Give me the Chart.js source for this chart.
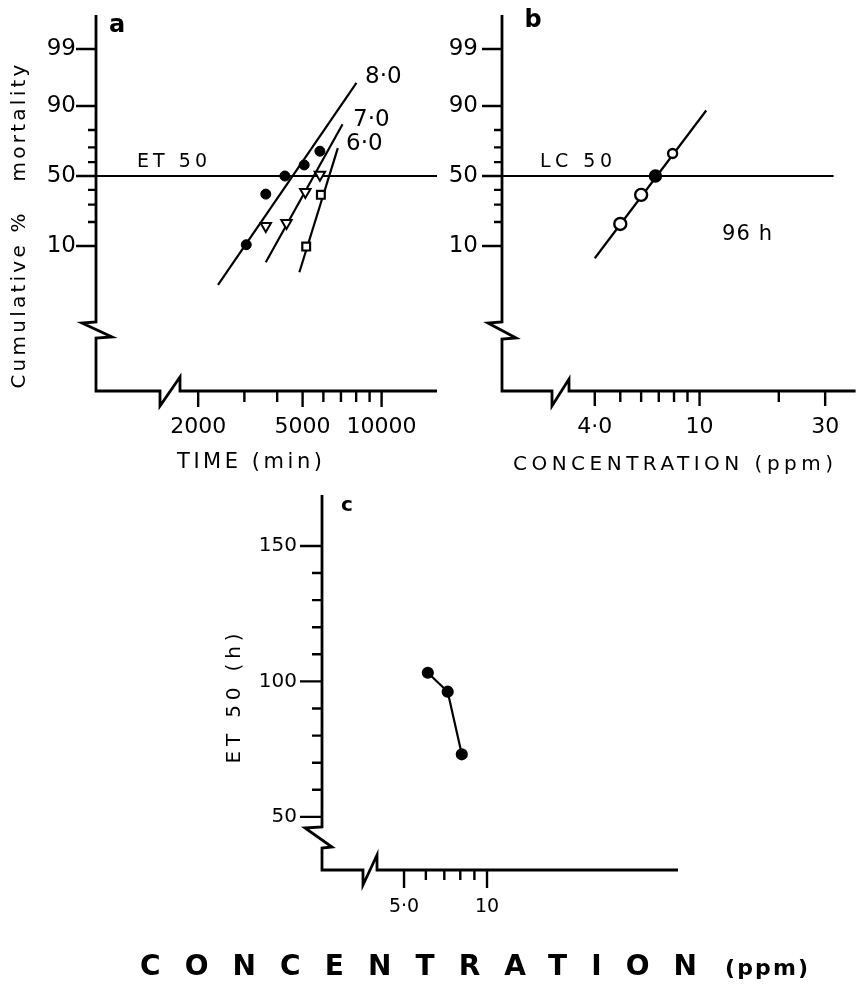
<!DOCTYPE html>
<html>
<head>
<meta charset="utf-8">
<script src="https://cdn.jsdelivr.net/npm/chart.js@4"></script>
<style>
  html, body { margin: 0; padding: 0; background: #fff; }
  body { width: 864px; height: 989px; position: relative; overflow: hidden; }
  canvas { position: absolute; }
  #chartA { left: 0; top: 0; }
  #chartB { left: 440px; top: 0; }
  #chartC { left: 0; top: 470px; }
</style>
</head>
<body>
<canvas id="chartA" width="445" height="480"></canvas>
<canvas id="chartB" width="424" height="480"></canvas>
<canvas id="chartC" width="864" height="519"></canvas>
<script>
// ---- panel a: cumulative % mortality against time, three concentrations (ppm)
const time8 = [3050, 3620, 4280, 5070, 5820];
const mort8 = [10.4, 37, 50, 58, 67.5];
const time7 = [3620, 4340, 5120, 5820];
const mort7 = [18, 19.5, 38.5, 51];
const time6 = [5160, 5870];
const mort6 = [9.8, 36.5];
// fitted probit lines
const fitTime8 = [2380, 8020];
const fitMort8 = [2.3, 95.6];
const fitTime7 = [3620, 7100];
const fitMort7 = [5.7, 82.8];
const fitTime6 = [4860, 6810];
const fitMort6 = [3.9, 69.5];
const et50Time = [816, 16260];
const et50Mort = [50, 50];

// ---- panel b: mortality against concentration after 96 h
const conc96 = [5.0, 6.0, 6.8, 7.9];
const mort96 = [19, 36.5, 50, 66];
const fitConcB = [4.0, 10.6];
const fitMortB = [6.6, 88.5];
const lc50Conc = [1.78, 32.3];
const lc50Mort = [50, 50];

// ---- panel c: ET 50 against concentration
const concC = [6.1, 7.2, 8.1];
const et50Hours = [103.2, 96.2, 73.1];

// ---- tick values / labels
const mortTicks = [10, 50, 90, 99];
const mortTickLabels = ['10', '50', '90', '99'];
const mortMinorTicks = [20, 30, 40, 60, 70, 80];
const timeTicks = [2000, 5000, 10000];
const timeTickLabels = ['2000', '5000', '10000'];
const timeMinorTicks = [3000, 4000, 6000, 7000, 8000, 9000];
const concTicksB = [4, 10, 30];
const concTickLabelsB = ['4·0', '10', '30'];
const concMinorTicksB = [5, 6, 7, 8, 9, 20];
const concTicksC = [5, 10];
const concTickLabelsC = ['5·0', '10'];
const concMinorTicksC = [6, 7, 8, 9];
const etTicks = [50, 100, 150];
const etTickLabels = ['50', '100', '150'];
const etMinorTicks = [60, 70, 80, 90, 110, 120, 130, 140];

const FONT = 'DejaVu Sans';

// inverse normal CDF (probit scale), percent in -> standard deviates out
function probit(pct) {
  const p = pct / 100;
  const a = [-39.69683028665376, 220.9460984245205, -275.9285104469687, 138.3577518672690, -30.66479806614716, 2.506628277459239];
  const b = [-54.47609879822406, 161.5858368580409, -155.6989798598866, 66.80131188771972, -13.28068155288572];
  const c = [-0.007784894002430293, -0.3223964580411365, -2.400758277161838, -2.549732539343734, 4.374664141464968, 2.938163982698783];
  const d = [0.007784695709041462, 0.3224671290700398, 2.445134137142996, 3.754408661907416];
  const pl = 0.02425;
  let q, r;
  if (p < pl) {
    q = Math.sqrt(-2 * Math.log(p));
    return (((((c[0]*q+c[1])*q+c[2])*q+c[3])*q+c[4])*q+c[5]) / ((((d[0]*q+d[1])*q+d[2])*q+d[3])*q+1);
  }
  if (p > 1 - pl) {
    q = Math.sqrt(-2 * Math.log(1 - p));
    return -(((((c[0]*q+c[1])*q+c[2])*q+c[3])*q+c[4])*q+c[5]) / ((((d[0]*q+d[1])*q+d[2])*q+d[3])*q+1);
  }
  q = p - 0.5; r = q * q;
  return (((((a[0]*r+a[1])*r+a[2])*r+a[3])*r+a[4])*r+a[5])*q / (((((b[0]*r+b[1])*r+b[2])*r+b[3])*r+b[4])*r+1);
}

const pts = (xs, ys, f) => xs.map((x, i) => ({ x: x, y: f ? f(ys[i]) : ys[i] }));

// draws the hand-drawn looking axes (with breaks), tick marks and the lettering
const paperPlugin = {
  id: 'paper',
  afterDraw(chart, args, o) {
    const { ctx, chartArea: a, scales } = chart;
    const sx = scales.x, sy = scales.y;
    ctx.save();
    ctx.strokeStyle = '#000';
    ctx.fillStyle = '#000';
    ctx.lineWidth = 2.8;
    ctx.lineJoin = 'miter';

    // axes with breaks
    const L = a.left, B = a.bottom;
    const yb = B - o.yBreak.at, xb = L + o.xBreak.at;
    ctx.beginPath();
    ctx.moveTo(L, a.top);
    ctx.lineTo(L, yb);
    ctx.lineTo(L - o.yBreak.l, yb + 1);
    ctx.lineTo(L + o.yBreak.r, yb + o.yBreak.h);
    ctx.lineTo(L, yb + o.yBreak.h + 1);
    ctx.lineTo(L, B);
    ctx.lineTo(xb, B);
    ctx.lineTo(xb, B + o.xBreak.down);
    ctx.lineTo(xb + o.xBreak.w, B - o.xBreak.up);
    ctx.lineTo(xb + o.xBreak.w, B);
    ctx.lineTo(a.right, B);
    ctx.stroke();

    // tick marks
    ctx.lineWidth = 2.4;
    ctx.beginPath();
    sy.ticks.forEach(t => {
      const p = sy.getPixelForValue(t.value);
      ctx.moveTo(L, p); ctx.lineTo(L - o.yMajor, p);
    });
    o.yMinor.forEach(v => {
      const p = sy.getPixelForValue(v);
      ctx.moveTo(L, p); ctx.lineTo(L - o.yMinorLen, p);
    });
    sx.ticks.forEach(t => {
      const p = sx.getPixelForValue(t.value);
      ctx.moveTo(p, B); ctx.lineTo(p, B + o.xMajor);
    });
    o.xMinor.forEach(v => {
      const p = sx.getPixelForValue(v);
      ctx.moveTo(p, B); ctx.lineTo(p, B + o.xMinorLen);
    });
    ctx.stroke();

    // lettering
    (o.texts || []).forEach(t => {
      ctx.save();
      ctx.font = t.font;
      let ls = t.ls || 0;
      if (t.width) {
        ctx.letterSpacing = '0px';
        const w = ctx.measureText(t.text).width;
        ls = (t.width - w) / Math.max(1, t.text.length - 1);
      }
      ctx.letterSpacing = ls + 'px';
      ctx.textAlign = t.align || 'left';
      ctx.textBaseline = t.base || 'middle';
      ctx.translate(t.x, t.y);
      if (t.rot) ctx.rotate(t.rot);
      ctx.fillText(t.text, 0, 0);
      ctx.restore();
    });
    ctx.restore();
  }
};

// axis whose size is fixed, so the plot area lands where the paper figure has it
function fixedScale(extra, size) {
  return Object.assign({
    grid: { display: false, drawTicks: false },
    border: { display: false },
    afterFit: s => {
      if (s.isHorizontal()) { s.height = size; } else { s.width = size; }
      s.paddingTop = 0; s.paddingBottom = 0; s.paddingLeft = 0; s.paddingRight = 0;
    }
  }, extra);
}

const baseOptions = (pad) => ({
  responsive: false,
  animation: false,
  devicePixelRatio: 1,
  layout: { padding: pad },
  elements: { line: { tension: 0 } }
});

const lineSet = (data, width) => ({
  data: data, showLine: true, borderColor: '#000', borderWidth: width || 2.2,
  pointRadius: 0, fill: false, order: 2, clip: false
});

// ---------------- panel a
new Chart(document.getElementById('chartA'), {
  type: 'scatter',
  data: {
    datasets: [
      { data: pts(time8, mort8, probit), pointStyle: 'circle', pointRadius: 5,
        pointBackgroundColor: '#000', pointBorderColor: '#000', order: 0, clip: false },
      { data: pts(time7, mort7, probit), pointStyle: 'triangle', rotation: 180, pointRadius: 6,
        pointBackgroundColor: '#fff', pointBorderColor: '#000', pointBorderWidth: 2, order: 0, clip: false },
      { data: pts(time6, mort6, probit), pointStyle: 'rect', pointRadius: 5.5,
        pointBackgroundColor: '#fff', pointBorderColor: '#000', pointBorderWidth: 2.2, order: 0, clip: false },
      lineSet(pts(fitTime8, fitMort8, probit)),
      lineSet(pts(fitTime7, fitMort7, probit)),
      lineSet(pts(fitTime6, fitMort6, probit)),
      lineSet(pts(et50Time, et50Mort, probit))
    ]
  },
  options: Object.assign(baseOptions({ left: 0, top: 15, right: 2, bottom: 0 }), {
    scales: {
      x: fixedScale({
        type: 'logarithmic', min: 816, max: 16260,
        afterBuildTicks: s => { s.ticks = timeTicks.map(v => ({ value: v })); },
        ticks: { autoSkip: false, maxRotation: 0, padding: 23, color: '#000',
          font: { family: FONT, size: 22 }, callback: (v, i) => timeTickLabels[i] }
      }, 89),
      y: fixedScale({
        type: 'linear', min: -3.938, max: 2.949,
        afterBuildTicks: s => { s.ticks = mortTicks.map(v => ({ value: probit(v) })); },
        ticks: { autoSkip: false, padding: 20, color: '#000',
          font: { family: FONT, size: 23 }, callback: (v, i) => mortTickLabels[i] }
      }, 96)
    },
    plugins: {
      legend: { display: false }, tooltip: { enabled: false },
      paper: {
        yBreak: { at: 69, l: 14, r: 16, h: 15 },
        xBreak: { at: 64, w: 20, up: 14, down: 15 },
        yMajor: 20, yMinorLen: 8, xMajor: 16, xMinorLen: 11,
        yMinor: mortMinorTicks.map(probit), xMinor: timeMinorTicks,
        texts: [
          { text: 'a', x: 117, y: 26, font: `bold 24px ${FONT}`, align: 'center' },
          { text: 'ET 50', x: 137, y: 162, font: `19px ${FONT}`, width: 70 },
          { text: '8·0', x: 365, y: 77, font: `23px ${FONT}` },
          { text: '7·0', x: 353, y: 120, font: `23px ${FONT}` },
          { text: '6·0', x: 346, y: 144, font: `23px ${FONT}` },
          { text: 'TIME (min)', x: 177, y: 463, font: `21px ${FONT}`, width: 145 },
          { text: 'Cumulative %   mortality', x: 20, y: 225, font: `20px ${FONT}`, width: 324,
            align: 'center', rot: -Math.PI / 2 }
        ]
      }
    }
  }),
  plugins: [paperPlugin]
});

// ---------------- panel b
new Chart(document.getElementById('chartB'), {
  type: 'scatter',
  data: {
    datasets: [
      { data: pts(conc96, mort96, probit), pointStyle: 'circle',
        pointRadius: [6, 6, 5.5, 4.5], pointBorderWidth: 2.4,
        pointBackgroundColor: ['#fff', '#fff', '#000', '#fff'], pointBorderColor: '#000',
        order: 0, clip: false },
      lineSet(pts(fitConcB, fitMortB, probit)),
      lineSet(pts(lc50Conc, lc50Mort, probit))
    ]
  },
  options: Object.assign(baseOptions({ left: 0, top: 15, right: 0, bottom: 0 }), {
    scales: {
      x: fixedScale({
        type: 'logarithmic', min: 1.777, max: 39.15,
        afterBuildTicks: s => { s.ticks = concTicksB.map(v => ({ value: v })); },
        ticks: { autoSkip: false, maxRotation: 0, padding: 23, color: '#000',
          font: { family: FONT, size: 22 }, callback: (v, i) => concTickLabelsB[i] }
      }, 89),
      y: fixedScale({
        type: 'linear', min: -3.938, max: 2.949,
        afterBuildTicks: s => { s.ticks = mortTicks.map(v => ({ value: probit(v) })); },
        ticks: { autoSkip: false, padding: 24, color: '#000',
          font: { family: FONT, size: 23 }, callback: (v, i) => mortTickLabels[i] }
      }, 62)
    },
    plugins: {
      legend: { display: false }, tooltip: { enabled: false },
      paper: {
        yBreak: { at: 69, l: 14, r: 14, h: 16 },
        xBreak: { at: 50, w: 17, up: 12, down: 15 },
        yMajor: 20, yMinorLen: 8, xMajor: 15, xMinorLen: 11,
        yMinor: mortMinorTicks.map(probit), xMinor: concMinorTicksB,
        texts: [
          { text: 'b', x: 93, y: 21, font: `bold 24px ${FONT}`, align: 'center' },
          { text: 'LC 50', x: 100, y: 162, font: `19px ${FONT}`, width: 72 },
          { text: '96 h', x: 282, y: 235, font: `21px ${FONT}`, width: 50 },
          { text: 'CONCENTRATION (ppm)', x: 73, y: 465, font: `20px ${FONT}`, width: 320 }
        ]
      }
    }
  }),
  plugins: [paperPlugin]
});

// ---------------- panel c
new Chart(document.getElementById('chartC'), {
  type: 'scatter',
  data: {
    datasets: [
      { data: pts(concC, et50Hours), showLine: true, borderColor: '#000', borderWidth: 2.2,
        pointStyle: 'circle', pointRadius: 5, pointBackgroundColor: '#000',
        pointBorderColor: '#000', clip: false }
    ]
  },
  options: Object.assign(baseOptions({ left: 0, top: 25, right: 186, bottom: 0 }), {
    scales: {
      x: fixedScale({
        type: 'logarithmic', min: 2.52, max: 49.3,
        afterBuildTicks: s => { s.ticks = concTicksC.map(v => ({ value: v })); },
        ticks: { autoSkip: false, maxRotation: 0, padding: 26, color: '#000',
          font: { family: FONT, size: 19 }, callback: (v, i) => concTickLabelsC[i] }
      }, 119),
      y: fixedScale({
        type: 'linear', min: 30.4, max: 168.8,
        afterBuildTicks: s => { s.ticks = etTicks.map(v => ({ value: v })); },
        ticks: { autoSkip: false, padding: 25, color: '#000',
          font: { family: FONT, size: 20 }, callback: (v, i) => etTickLabels[i] }
      }, 322)
    },
    plugins: {
      legend: { display: false }, tooltip: { enabled: false },
      paper: {
        yBreak: { at: 43, l: 17, r: 10, h: 20 },
        xBreak: { at: 41, w: 14, up: 15, down: 15 },
        yMajor: 22, yMinorLen: 10, xMajor: 18, xMinorLen: 10,
        yMinor: etMinorTicks, xMinor: concMinorTicksC,
        texts: [
          { text: 'c', x: 347, y: 36, font: `bold 20px ${FONT}`, align: 'center' },
          { text: 'ET 50 (h)', x: 235, y: 226, font: `20px ${FONT}`, width: 130,
            align: 'center', rot: -Math.PI / 2 },
          { text: 'CONCENTRATION', x: 140, y: 505, font: `bold 28px ${FONT}`, width: 557, base: 'alphabetic' },
          { text: '(ppm)', x: 725, y: 505, font: `bold 22px ${FONT}`, width: 83, base: 'alphabetic' }
        ]
      }
    }
  }),
  plugins: [paperPlugin]
});
</script>
</body>
</html>
